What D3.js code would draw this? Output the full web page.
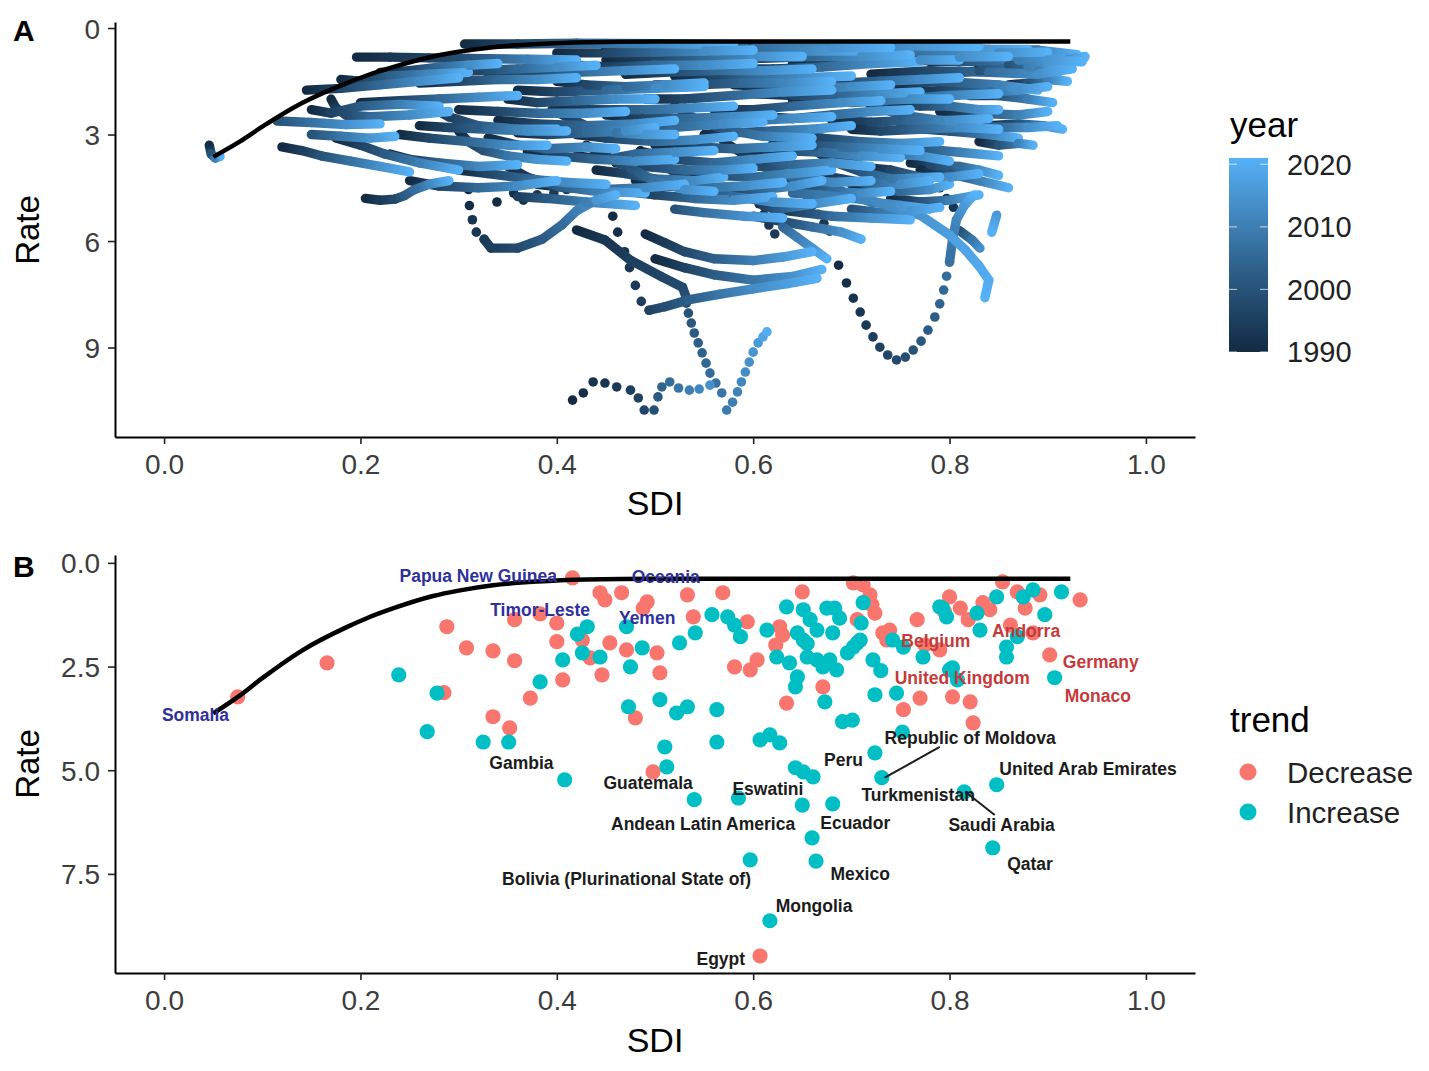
<!DOCTYPE html>
<html><head><meta charset="utf-8">
<script src="https://cdn.jsdelivr.net/npm/d3@7"></script>
<style>
body{margin:0;background:#fff;}
svg{display:block;font-family:"Liberation Sans",Arial,Helvetica,sans-serif;}
</style></head><body>
<svg id="chart" width="1429" height="1071"></svg>
<script>
// ---------------- DATA ----------------
// Frontier curve [sdi, rate]
const frontier = [[0.05,3.63],[0.077,3.2],[0.1,2.78],[0.14,2.12],[0.186,1.55],[0.207,1.33],[0.233,1.1],[0.274,0.8],[0.3,0.67],[0.335,0.54],[0.38,0.45],[0.43,0.4],[0.5,0.38],[0.923,0.38]];

// Panel A trajectories: [year, sdi, rate]
const tracksLow = [
 [[1990,0.046,3.3],[2000,0.048,3.55],[2010,0.052,3.66],[2021,0.057,3.62]],
 [[1990,0.196,0.82],[1993,0.23,0.82],[1996,0.27,0.84],[2000,0.31,0.86],[2010,0.37,0.88],[2021,0.42,0.9]],
 [[1990,0.306,0.45],[1997,0.36,0.45],[2005,0.42,0.43],[2012,0.5,0.44],[2021,0.58,0.47]],
 [[1990,0.145,1.75],[1997,0.18,1.7],[2005,0.22,1.6],[2013,0.26,1.5],[2021,0.3,1.4]],
 [[2000,0.115,2.62],[2007,0.15,2.66],[2014,0.185,2.72],[2021,0.22,2.7]],
 [[1990,0.17,2.0],[1994,0.175,2.25],[1998,0.185,2.45],[2005,0.21,2.5],[2013,0.25,2.45],[2021,0.29,2.35]],
 [[1990,0.12,3.35],[1995,0.14,3.45],[2000,0.16,3.6],[2007,0.19,3.75],[2014,0.22,3.9],[2021,0.25,4.05]],
 [[1990,0.175,3.1],[1996,0.2,3.3],[2002,0.225,3.55],[2010,0.26,3.8],[2021,0.3,4.0]],
 [[1990,0.2,2.1],[1997,0.24,2.05],[2005,0.28,2.0],[2013,0.32,1.95],[2021,0.36,1.9]],
 [[1990,0.26,1.55],[1997,0.3,1.5],[2005,0.34,1.45],[2013,0.38,1.45],[2021,0.42,1.4]],
 [[1990,0.285,1.25],[1997,0.32,1.2],[2005,0.36,1.15],[2013,0.4,1.1],[2021,0.44,1.05]],
 [[1990,0.26,2.75],[1997,0.29,2.8],[2005,0.33,2.85],[2013,0.37,2.9],[2021,0.41,2.9]],
 [[1990,0.205,4.8],[1994,0.22,4.85],[1998,0.235,4.82],[2002,0.245,4.72],[2006,0.255,4.55],[2012,0.27,4.4],[2021,0.29,4.3]],
 [[1990,0.3,2.9],[1995,0.31,3.2],[2000,0.325,3.45],[2008,0.35,3.6],[2015,0.38,3.7],[2021,0.41,3.75]],
 [[1990,0.3,4.0],[1997,0.33,4.1],[2005,0.37,4.25],[2013,0.41,4.35],[2021,0.45,4.4]],
 [[1990,0.24,3.0],[1997,0.27,3.1],[2005,0.31,3.2],[2013,0.35,3.3],[2021,0.39,3.3]],
 [[1990,0.3,2.3],[1997,0.34,2.35],[2005,0.38,2.4],[2013,0.43,2.4],[2021,0.47,2.35]],
 [[1990,0.22,1.25],[1997,0.25,1.2],[2005,0.28,1.1],[2013,0.31,1.05],[2021,0.34,1.0]],
 [[1990,0.33,1.3],[1997,0.37,1.3],[2005,0.42,1.25],[2013,0.47,1.2],[2021,0.52,1.15]],
 [[1990,0.34,2.6],[1997,0.38,2.7],[2005,0.43,2.75],[2013,0.48,2.7],[2021,0.52,2.6]],
 [[2000,0.15,3.0],[2008,0.18,3.05],[2015,0.21,3.1],[2021,0.235,3.05]],
 [[1994,0.326,5.95],[1995,0.333,6.2],[1998,0.36,6.2],[2002,0.385,5.95],[2006,0.405,5.55],[2010,0.42,5.15],[2015,0.44,4.85],[2021,0.46,4.7]]
];
const tracksMid = [
 [[1990,0.36,1.75],[1997,0.4,1.8],[2005,0.45,1.75],[2013,0.5,1.7],[2021,0.55,1.65]],
 [[1990,0.4,2.2],[1997,0.44,2.3],[2005,0.49,2.3],[2013,0.54,2.25],[2021,0.58,2.2]],
 [[1990,0.42,3.0],[1997,0.45,3.1],[2005,0.5,3.2],[2013,0.54,3.15],[2021,0.58,3.05]],
 [[1990,0.37,3.5],[1997,0.4,3.6],[2005,0.44,3.7],[2013,0.48,3.75],[2021,0.52,3.7]],
 [[1990,0.44,4.0],[1997,0.47,4.1],[2005,0.5,4.25],[2013,0.54,4.3],[2021,0.57,4.2]],
 [[1990,0.4,1.5],[1997,0.43,1.6],[2005,0.47,1.65],[2013,0.51,1.6],[2021,0.55,1.55]],
 [[1990,0.395,2.3],[1995,0.41,2.5],[2000,0.43,2.75],[2008,0.46,2.95],[2015,0.49,3.0],[2021,0.52,3.0]],
 [[1990,0.45,0.6],[1998,0.52,0.6],[2006,0.6,0.58],[2014,0.68,0.55],[2021,0.74,0.55]],
 [[1990,0.455,0.66],[1995,0.5,0.64],[2000,0.55,0.64],[2005,0.6,0.66],[2021,0.72,0.64]],
 [[1990,0.58,1.15],[1997,0.62,1.15],[2005,0.67,1.1],[2013,0.72,1.0],[2021,0.77,0.95]],
 [[1990,0.49,2.0],[1997,0.53,2.0],[2005,0.58,1.9],[2013,0.63,1.8],[2021,0.68,1.75]],
 [[1990,0.61,2.5],[1997,0.64,2.55],[2005,0.68,2.45],[2013,0.72,2.35],[2021,0.76,2.3]],
 [[1990,0.49,3.5],[1997,0.52,3.7],[2005,0.56,3.8],[2013,0.6,3.7],[2021,0.64,3.6]],
 [[1990,0.53,4.0],[1997,0.56,4.15],[2005,0.6,4.2],[2013,0.64,4.1],[2021,0.68,4.0]],
 [[1990,0.6,4.7],[1996,0.61,5.0],[2002,0.625,5.1],[2010,0.65,5.0],[2021,0.7,4.8]],
 [[1990,0.64,3.0],[1997,0.67,3.1],[2005,0.71,3.2],[2013,0.75,3.25],[2021,0.79,3.2]],
 [[1990,0.55,3.0],[1997,0.58,2.95],[2005,0.62,2.9],[2013,0.66,2.85],[2021,0.7,2.75]],
 [[1990,0.52,1.35],[1997,0.56,1.35],[2005,0.6,1.4],[2013,0.65,1.4],[2021,0.7,1.35]],
 [[1990,0.6,5.3],[1998,0.63,5.45],[2006,0.66,5.6],[2014,0.69,5.75],[2021,0.71,5.95]],
 [[1990,0.49,5.8],[1994,0.51,6.05],[1998,0.53,6.3],[2003,0.56,6.5],[2010,0.6,6.55],[2016,0.63,6.45],[2021,0.66,6.3]],
 [[1990,0.47,4.6],[1997,0.5,4.7],[2005,0.54,4.8],[2013,0.58,4.85],[2021,0.62,4.75]],
 [[1990,0.45,0.9],[1997,0.5,0.9],[2005,0.55,0.85],[2013,0.6,0.8],[2021,0.65,0.8]],
 [[1990,0.56,0.85],[1997,0.61,0.85],[2005,0.66,0.8],[2013,0.71,0.8],[2021,0.76,0.75]],
 [[1990,0.5,1.6],[1997,0.54,1.6],[2005,0.59,1.55],[2013,0.64,1.55],[2021,0.68,1.5]],
 [[1990,0.6,1.85],[1997,0.64,1.9],[2005,0.69,1.9],[2013,0.73,1.85],[2021,0.77,1.8]],
 [[1990,0.45,2.45],[1997,0.49,2.5],[2005,0.53,2.55],[2013,0.58,2.5],[2021,0.62,2.45]],
 [[1990,0.56,2.3],[1997,0.6,2.3],[2005,0.64,2.2],[2013,0.69,2.1],[2021,0.73,2.05]],
 [[1990,0.5,3.3],[1997,0.54,3.35],[2005,0.58,3.4],[2013,0.62,3.35],[2021,0.66,3.3]],
 [[1990,0.6,3.5],[1997,0.63,3.45],[2005,0.67,3.5],[2013,0.71,3.6],[2021,0.75,3.65]],
 [[1990,0.38,4.4],[1997,0.41,4.5],[2005,0.45,4.55],[2013,0.49,4.5],[2021,0.53,4.4]],
 [[1990,0.4,0.7],[1997,0.45,0.7],[2005,0.5,0.68],[2013,0.55,0.65],[2021,0.6,0.62]],
 [[1990,0.46,3.8],[1997,0.49,3.9],[2005,0.53,4.0],[2013,0.57,4.0],[2021,0.6,3.95]],
 [[1990,0.56,4.5],[1997,0.58,4.6],[2005,0.61,4.55],[2013,0.64,4.45],[2021,0.67,4.3]],
 [[1990,0.5,6.5],[1996,0.53,6.75],[2002,0.56,6.95],[2008,0.6,7.1],[2014,0.64,7.0],[2021,0.67,6.8]],
 [[2005,0.63,5.6],[2010,0.645,5.9],[2015,0.66,6.2],[2021,0.675,6.5]],
 [[1990,0.42,5.69],[1993,0.449,5.97],[1995,0.475,6.54],[1997,0.507,7.01],[1998,0.528,7.3],[1999,0.532,7.6]],
 [[1996,0.494,7.95],[1999,0.51,7.85],[2003,0.535,7.65],[2008,0.565,7.5],[2013,0.6,7.35],[2017,0.635,7.2],[2021,0.665,7.05]]
];
const tracksHigh = [
 [[1990,0.62,0.62],[2000,0.7,0.6],[2010,0.79,0.62],[2021,0.88,0.6]],
 [[1990,0.78,0.95],[2000,0.83,0.85],[2008,0.87,0.8],[2015,0.9,0.9],[2021,0.935,0.95]],
 [[1990,0.72,1.3],[1998,0.78,1.2],[2006,0.84,1.25],[2014,0.89,1.3],[2021,0.925,1.15]],
 [[1990,0.8,0.55],[2000,0.84,0.6],[2010,0.89,0.62],[2021,0.93,0.75]],
 [[1990,0.76,0.9],[2000,0.81,0.95],[2010,0.87,0.9],[2021,0.937,0.85]],
 [[1990,0.78,1.35],[2000,0.83,1.2],[2010,0.88,1.1],[2021,0.92,1.0]],
 [[1990,0.83,1.1],[2000,0.86,1.05],[2010,0.89,1.2],[2021,0.91,1.35]],
 [[1990,0.74,1.6],[2000,0.79,1.5],[2010,0.85,1.6],[2021,0.89,1.75]],
 [[1990,0.82,1.9],[2000,0.85,1.9],[2010,0.88,2.0],[2021,0.905,2.1]],
 [[1990,0.79,2.35],[2000,0.83,2.4],[2010,0.87,2.45],[2021,0.9,2.35]],
 [[1990,0.84,2.75],[2000,0.87,2.7],[2010,0.895,2.75],[2021,0.915,2.85]],
 [[1990,0.75,2.8],[2000,0.8,2.9],[2010,0.84,3.0],[2021,0.87,3.1]],
 [[1990,0.72,3.3],[2000,0.77,3.4],[2010,0.81,3.5],[2021,0.85,3.6]],
 [[1990,0.77,4.0],[2000,0.8,4.1],[2010,0.83,4.3],[2021,0.86,4.5]],
 [[1990,0.7,2.1],[2000,0.75,2.0],[2010,0.8,1.9],[2021,0.85,1.85]],
 [[1990,0.85,1.15],[1998,0.87,1.1],[2006,0.9,0.95],[2014,0.92,0.88],[2021,0.938,0.8]],
 [[1990,0.81,2.65],[1998,0.83,2.75],[2006,0.855,2.8],[2014,0.88,2.8],[2021,0.91,2.75]],
 [[1990,0.74,2.1],[1998,0.77,2.2],[2006,0.8,2.2],[2014,0.83,2.3],[2021,0.85,2.3]],
 [[1990,0.64,1.0],[1997,0.68,1.0],[2005,0.72,0.95],[2013,0.77,0.9],[2021,0.81,0.9]],
 [[1990,0.68,2.6],[1997,0.72,2.65],[2005,0.76,2.6],[2013,0.8,2.6],[2021,0.84,2.55]],
 [[1990,0.7,4.4],[1997,0.72,4.55],[2005,0.75,4.6],[2013,0.78,4.55],[2021,0.8,4.4]],
 [[1990,0.72,0.75],[1997,0.76,0.72],[2005,0.8,0.72],[2013,0.85,0.7],[2021,0.9,0.68]],
 [[1990,0.66,4.1],[1997,0.69,4.25],[2005,0.72,4.4],[2013,0.75,4.4],[2021,0.78,4.3]],
 [[1990,0.68,3.7],[1997,0.71,3.6],[2005,0.74,3.55],[2013,0.77,3.6],[2021,0.8,3.75]],
 [[1990,0.66,1.6],[1997,0.69,1.55],[2005,0.73,1.5],[2013,0.77,1.45],[2021,0.81,1.4]],
 [[1990,0.655,4.0],[1995,0.67,4.3],[2000,0.69,4.6],[2008,0.72,4.9],[2015,0.75,5.0],[2021,0.78,5.1]],
 [[1990,0.74,4.8],[2000,0.77,4.9],[2010,0.8,4.85],[2021,0.83,4.7]],
 [[2005,0.64,4.65],[2009,0.668,4.7],[2012,0.719,4.85],[2015,0.77,5.27],[2017,0.8,5.83],[2018,0.816,6.25],[2019,0.83,6.7],[2020,0.84,7.1],[2021,0.836,7.6]],
 [[2000,0.81,5.7],[2008,0.823,5.97],[2014,0.831,6.2]],
 [[2016,0.848,5.27],[2021,0.843,5.75]],
 [[2007,0.8,6.59],[2009,0.803,5.97],[2012,0.807,5.4],[2016,0.815,5.0],[2021,0.825,4.7]],
 [[1990,0.76,3.8],[1997,0.78,3.85],[2005,0.81,3.9],[2013,0.83,4.0],[2021,0.85,4.15]]
];
const tracksFill = [
 [[1990,0.15,2.3],[1996,0.17,2.4],[2002,0.2,2.2],[2010,0.24,2.15],[2021,0.28,2.2]],
 [[1990,0.18,1.45],[1996,0.2,1.5],[2003,0.23,1.35],[2012,0.27,1.3],[2021,0.31,1.25]],
 [[1990,0.23,3.55],[1996,0.25,3.7],[2003,0.28,3.8],[2012,0.32,3.9],[2021,0.36,3.85]],
 [[1990,0.25,4.3],[1997,0.28,4.45],[2005,0.32,4.5],[2013,0.36,4.45],[2021,0.4,4.3]],
 [[1990,0.33,3.1],[1997,0.36,3.3],[2005,0.39,3.4],[2013,0.43,3.35],[2021,0.46,3.4]],
 [[1990,0.35,2.0],[1997,0.38,2.1],[2005,0.42,2.05],[2013,0.46,2.0],[2021,0.5,2.0]],
 [[1990,0.42,1.05],[1997,0.46,1.1],[2005,0.5,1.05],[2013,0.55,1.05],[2021,0.6,1.0]],
 [[1990,0.47,1.3],[1997,0.51,1.25],[2005,0.56,1.2],[2013,0.61,1.2],[2021,0.66,1.15]],
 [[1990,0.44,2.75],[1997,0.48,2.8],[2005,0.52,2.8],[2013,0.57,2.7],[2021,0.61,2.65]],
 [[1990,0.52,2.6],[1997,0.56,2.65],[2005,0.6,2.6],[2013,0.64,2.55],[2021,0.68,2.5]],
 [[1990,0.57,3.8],[1997,0.6,3.9],[2005,0.64,3.85],[2013,0.68,3.8],[2021,0.72,3.9]],
 [[1990,0.62,3.25],[1997,0.65,3.3],[2005,0.69,3.35],[2013,0.73,3.4],[2021,0.77,3.45]],
 [[1990,0.64,2.05],[1997,0.68,2.1],[2005,0.72,2.05],[2013,0.76,2.0],[2021,0.8,2.0]],
 [[1990,0.7,2.85],[1997,0.73,2.9],[2005,0.77,2.85],[2013,0.81,2.8],[2021,0.85,2.85]],
 [[1990,0.68,0.8],[1997,0.72,0.85],[2005,0.76,0.85],[2013,0.81,0.82],[2021,0.86,0.8]],
 [[1990,0.76,1.8],[1998,0.8,1.75],[2006,0.84,1.8],[2014,0.87,1.75],[2021,0.9,1.65]],
 [[1990,0.72,3.95],[1997,0.74,4.0],[2005,0.77,4.2],[2013,0.8,4.2],[2021,0.83,4.1]],
 [[1990,0.63,4.35],[1997,0.65,4.5],[2005,0.68,4.6],[2013,0.71,4.65],[2021,0.74,4.6]],
 [[1990,0.42,3.6],[1997,0.45,3.7],[2005,0.48,3.55],[2013,0.52,3.5],[2021,0.56,3.45]],
 [[1990,0.53,0.5],[1998,0.6,0.5],[2006,0.68,0.48],[2014,0.76,0.5],[2021,0.83,0.52]],
 [[1990,0.86,1.6],[2000,0.88,1.55],[2010,0.9,1.45],[2021,0.92,1.5]],
 [[1990,0.83,3.2],[2000,0.85,3.3],[2010,0.87,3.25],[2021,0.885,3.3]],
 [[1990,0.58,1.6],[1997,0.62,1.65],[2005,0.66,1.7],[2013,0.7,1.65],[2021,0.74,1.6]],
 [[1990,0.36,2.95],[1997,0.39,3.0],[2005,0.43,2.95],[2013,0.47,2.9],[2021,0.5,2.8]],
 [[1990,0.48,4.3],[1997,0.51,4.45],[2005,0.55,4.5],[2013,0.59,4.45],[2021,0.63,4.35]]
];
const tracksDiagonal = [
 [[1990,0.485,3.45],[1993,0.505,3.8],[1996,0.525,4.15],[2000,0.55,4.5],[2006,0.58,4.75],[2014,0.62,4.9],[2021,0.66,4.95]],
 [[1990,0.57,3.2],[1994,0.59,3.55],[1998,0.61,3.9],[2004,0.64,4.2],[2012,0.68,4.35],[2021,0.72,4.3]],
 [[1990,0.43,3.3],[1995,0.45,3.6],[2000,0.475,3.95],[2007,0.5,4.3],[2014,0.53,4.55],[2021,0.56,4.6]],
 [[1990,0.66,3.4],[1995,0.68,3.75],[2001,0.71,4.05],[2008,0.74,4.25],[2021,0.79,4.2]],
 [[1995,0.36,4.75],[2002,0.39,4.8],[2010,0.43,4.9],[2021,0.48,5.0]],
 [[2000,0.52,5.1],[2007,0.55,5.2],[2014,0.59,5.3],[2021,0.63,5.35]],
 [[1990,0.62,5.1],[1998,0.65,5.2],[2006,0.68,5.3],[2014,0.72,5.35],[2021,0.76,5.4]],
 [[2000,0.7,5.1],[2008,0.73,5.2],[2015,0.76,5.15],[2021,0.79,5.05]],
 [[1990,0.35,3.9],[1995,0.37,4.2],[2002,0.4,4.45],[2010,0.44,4.6],[2021,0.49,4.65]],
 [[1990,0.52,2.2],[1995,0.54,2.55],[2001,0.57,2.85],[2009,0.61,3.05],[2021,0.66,3.1]],
 [[1990,0.7,1.8],[1995,0.72,2.15],[2002,0.75,2.45],[2011,0.79,2.6],[2021,0.83,2.65]],
 [[1990,0.27,2.2],[1995,0.29,2.5],[2002,0.32,2.75],[2011,0.36,2.85],[2021,0.4,2.85]]
];
// Trajectories whose yearly points are visibly separated
const dotTracks = [
 [[1990,0.416,10.48],[1991,0.427,10.28],[1992,0.437,9.97],[1993,0.449,10.0],[1994,0.461,10.11],[1995,0.475,10.2],[1996,0.483,10.42],[1997,0.489,10.76],[1999,0.499,10.76],[2002,0.503,10.39],[2004,0.507,10.11],[2006,0.515,9.97],[2008,0.524,10.14],[2010,0.535,10.2],[2012,0.545,10.17],[2014,0.556,10.06]],
 [[1999,0.532,7.75],[2000,0.534,8.03],[2001,0.537,8.31],[2002,0.54,8.59],[2003,0.544,8.87],[2004,0.548,9.15],[2005,0.552,9.44],[2006,0.556,9.72],[2007,0.562,10.0],[2008,0.568,10.28],[2009,0.573,10.76],[2010,0.579,10.54],[2011,0.584,10.25],[2012,0.588,9.97],[2013,0.592,9.69],[2014,0.596,9.41],[2015,0.6,9.13],[2016,0.605,8.87],[2018,0.61,8.7],[2020,0.614,8.56]],
 [[1990,0.457,5.3],[1991,0.462,5.75],[1992,0.469,6.3],[1993,0.474,6.75],[1994,0.48,7.25],[1995,0.486,7.7],[1996,0.494,7.95]],
 [[1990,0.31,4.55],[1991,0.311,5.0],[1992,0.314,5.4],[1993,0.318,5.75],[1994,0.326,5.95]],
 [[1990,0.687,6.68],[1991,0.695,7.18],[1992,0.702,7.61],[1993,0.709,8.0],[1994,0.715,8.37],[1995,0.722,8.7],[1996,0.729,8.99],[1997,0.737,9.21],[1998,0.746,9.35],[1999,0.755,9.27],[2000,0.763,9.07],[2001,0.771,8.82],[2002,0.778,8.51],[2003,0.785,8.14],[2004,0.79,7.77],[2005,0.794,7.38],[2006,0.797,6.99],[2007,0.8,6.59]],
 [[1990,0.783,4.2],[1991,0.79,4.5],[1992,0.797,4.8],[1993,0.804,5.05]],
 [[1990,0.655,4.75],[1991,0.66,5.0],[1992,0.666,5.25],[1993,0.672,5.5],[1994,0.678,5.72]],
 [[1990,0.339,4.9],[1991,0.356,4.65],[1992,0.366,4.85],[1993,0.38,4.7],[1994,0.397,4.65],[1995,0.41,4.55]],
 [[1990,0.602,4.65],[1991,0.606,4.95],[1992,0.611,5.25],[1993,0.616,5.55],[1994,0.622,5.8]]
];
const yearTicks = [1990, 2000, 2010, 2020];

// Panel B points [sdi, rate]
const decreasePts = [
 [0.075,3.23],[0.166,2.41],[0.288,1.54],[0.308,2.05],[0.335,2.12],[0.357,2.36],[0.335,3.71],[0.352,3.98],[0.373,3.26],[0.285,3.13],
 [0.357,1.37],[0.383,1.23],[0.40,1.45],[0.40,1.9],[0.406,2.82],[0.416,0.36],[0.426,1.86],[0.444,0.72],[0.449,0.89],[0.466,0.72],
 [0.492,0.94],[0.488,1.09],[0.533,0.77],[0.569,0.72],[0.539,1.3],[0.594,1.42],[0.454,1.93],[0.471,2.1],[0.502,2.17],[0.505,2.65],
 [0.446,2.7],[0.434,2.29],[0.48,3.74],[0.498,5.04],[0.581,2.51],[0.597,2.58],[0.604,2.34],[0.627,1.54],[0.63,1.74],[0.623,1.98],
 [0.65,0.7],[0.634,3.38],[0.671,2.99],[0.702,0.48],[0.712,0.53],[0.719,0.77],[0.721,1.01],[0.724,1.21],[0.706,1.37],[0.732,1.69],
 [0.736,1.86],[0.739,1.62],[0.767,1.37],[0.80,0.82],[0.811,1.09],[0.834,0.96],[0.841,1.13],[0.854,0.46],[0.869,0.7],[0.885,1.69],
 [0.902,2.22],[0.933,0.89],[0.753,3.54],[0.77,3.26],[0.803,3.23],[0.821,3.35],[0.824,3.86],[0.607,9.48],[0.775,1.98],[0.79,2.1],
 [0.819,1.37],[0.795,1.18],[0.862,1.5],[0.877,1.09],[0.892,0.77]
];
const increasePts = [
 [0.239,2.7],[0.278,3.14],[0.268,4.07],[0.325,4.32],[0.351,4.32],[0.408,5.23],[0.383,2.87],[0.406,2.34],[0.426,2.17],[0.431,1.54],
 [0.421,1.72],[0.444,2.27],[0.471,1.54],[0.475,2.51],[0.487,2.05],[0.525,1.93],[0.541,1.69],[0.558,1.25],[0.574,1.3],[0.581,1.5],
 [0.587,1.78],[0.473,3.47],[0.505,3.3],[0.522,3.62],[0.533,3.47],[0.563,3.54],[0.51,4.44],[0.512,4.92],[0.563,4.32],[0.607,4.27],
 [0.617,4.15],[0.627,4.34],[0.634,1.06],[0.651,1.13],[0.658,1.37],[0.665,1.62],[0.675,1.09],[0.683,1.09],[0.688,1.33],[0.645,1.69],
 [0.651,1.86],[0.681,1.69],[0.624,2.27],[0.637,2.41],[0.645,2.75],[0.643,2.99],[0.655,2.27],[0.665,2.34],[0.671,2.51],[0.678,2.34],
 [0.685,2.58],[0.696,2.17],[0.702,2.03],[0.709,1.86],[0.722,2.34],[0.724,3.18],[0.746,3.14],[0.691,3.83],[0.701,3.79],[0.673,3.35],
 [0.643,4.94],[0.651,5.04],[0.661,5.16],[0.724,4.58],[0.731,5.18],[0.793,1.09],[0.803,2.53],[0.712,0.96],[0.742,1.86],[0.753,2.03],
 [0.773,2.27],[0.79,1.06],[0.797,1.3],[0.828,1.21],[0.831,1.62],[0.848,0.82],[0.858,2.03],[0.869,1.78],[0.858,2.27],[0.875,0.82],
 [0.885,0.65],[0.897,1.25],[0.914,0.7],[0.907,2.77],[0.80,2.58],[0.808,2.82],[0.752,4.08],[0.848,5.35],[0.815,5.52],[0.844,6.87],
 [0.706,1.93],[0.54,5.71],[0.585,5.67],[0.597,7.16],[0.617,8.63],[0.65,5.84],[0.681,5.81],[0.66,6.63],[0.664,7.19],[0.614,1.62],
 [0.71,1.45],[0.655,1.95],[0.73,2.6]
];
// Country labels [name, sdi, rate, group]
const labelsB = [
 ["Papua New Guinea",0.32,0.31,"blue"],["Oceania",0.511,0.34,"blue"],["Timor-Leste",0.383,1.13,"blue"],["Yemen",0.492,1.33,"blue"],["Somalia",0.032,3.67,"blue"],
 ["Belgium",0.786,1.88,"red"],["Andorra",0.878,1.64,"red"],["Germany",0.954,2.39,"red"],["United Kingdom",0.813,2.77,"red"],["Monaco",0.951,3.21,"red"],
 ["Gambia",0.364,4.82,"black"],["Guatemala",0.493,5.31,"black"],["Eswatini",0.615,5.45,"black"],["Andean Latin America",0.549,6.29,"black"],["Ecuador",0.704,6.27,"black"],
 ["Peru",0.692,4.75,"black"],["Republic of Moldova",0.821,4.22,"black"],["Turkmenistan",0.768,5.59,"black"],["Saudi Arabia",0.853,6.32,"black"],["Qatar",0.882,7.26,"black"],
 ["United Arab Emirates",0.941,4.97,"black"],["Mexico",0.709,7.5,"black"],["Bolivia (Plurinational State of)",0.471,7.62,"black"],["Mongolia",0.662,8.27,"black"],["Egypt",0.567,9.55,"black"]
];
// Label connector segments [sdi1, rate1, sdi2, rate2]
const connectorsB = [[0.79,4.44,0.734,5.18],[0.816,5.52,0.846,6.08]];
const trendNames = ["Decrease","Increase"];

// ---------------- CHART ----------------
const svg = d3.select("#chart");
const defs = svg.append("defs");
const FONT_TICK = 28;
const x = d3.scaleLinear().domain([-0.05,1.05]).range([115,1195]);
const yA = d3.scaleLinear().domain([-0.17,11.52]).range([22,437]);
const yB = d3.scaleLinear().domain([-0.19,9.89]).range([555,973]);
const yearColor = d3.scaleLinear().domain([1990,2021]).range(["#132B43","#56B1F7"]).interpolate(d3.interpolateLab);
const trendColor = d3.scaleOrdinal().domain(trendNames).range(["#F8766D","#00BFC4"]);
const labelColor = {blue:"#30309c", red:"#c43b3b", black:"#1c1c1c"};

function styleAxis(g){
  g.select(".domain").attr("stroke","#000").attr("stroke-width",2);
  g.selectAll(".tick line").attr("stroke","#222").attr("stroke-width",1.6);
  g.selectAll(".tick text").attr("font-size",FONT_TICK).attr("fill","#3d3d3d")
    .attr("font-family","Liberation Sans, Arial, sans-serif");
}
function drawAxes(yS, yTicks, yFmt, bottomY){
  const gx = svg.append("g").attr("transform",`translate(0,${bottomY})`)
    .call(d3.axisBottom(x).tickValues([0,0.2,0.4,0.6,0.8,1.0]).tickFormat(d3.format(".1f")).tickSize(7).tickSizeOuter(0).tickPadding(10));
  styleAxis(gx);
  const gy = svg.append("g").attr("transform","translate(115,0)")
    .call(d3.axisLeft(yS).tickValues(yTicks).tickFormat(yFmt).tickSize(7).tickSizeOuter(0).tickPadding(8));
  styleAxis(gy);
  gy.selectAll(".tick text").attr("dy","0.36em");
}

// ---- Panel A ----
const gA = svg.append("g");
// Collect marks, draw in year order (later years on top, as in the source plot)
const marks = [];
[tracksLow, tracksMid, tracksHigh, tracksFill, tracksDiagonal].forEach(group=>group.forEach(track=>{
  for(let i=0;i<track.length-1;i++) marks.push({type:"seg", a:track[i], b:track[i+1], year:(track[i][0]+track[i+1][0])/2});
}));
dotTracks.forEach(track=>track.forEach(p=>marks.push({type:"dot", p:p, year:p[0]})));
marks.sort((m,n)=>m.year-n.year);
let gid = 0;
marks.forEach(m=>{
  if(m.type==="seg"){
    const a=m.a, b=m.b;
    const x1=x(a[1]), y1=yA(a[2]), x2=x(b[1]), y2=yA(b[2]);
    const id="tg"+(gid++);
    const lg=defs.append("linearGradient").attr("id",id).attr("gradientUnits","userSpaceOnUse")
      .attr("x1",x1).attr("y1",y1).attr("x2",x2+0.01).attr("y2",y2);
    lg.append("stop").attr("offset",0).attr("stop-color",yearColor(a[0]));
    lg.append("stop").attr("offset",1).attr("stop-color",yearColor(b[0]));
    gA.append("line").attr("x1",x1).attr("y1",y1).attr("x2",x2).attr("y2",y2)
      .attr("stroke","url(#"+id+")").attr("stroke-width",9.4).attr("stroke-linecap","round");
  } else {
    gA.append("circle").attr("cx",x(m.p[1])).attr("cy",yA(m.p[2])).attr("r",4.8).attr("fill",yearColor(m.p[0]));
  }
});

const lineGen = (yS)=> d3.line().x(d=>x(d[0])).y(d=>yS(d[1])).curve(d3.curveMonotoneX);
gA.append("path").attr("d",lineGen(yA)(frontier)).attr("fill","none").attr("stroke","#000").attr("stroke-width",4.5);

drawAxes(yA,[0,3,6,9],d3.format("d"),437);

svg.append("text").attr("x",13).attr("y",41).attr("font-size",30).attr("font-weight","bold").text("A");
svg.append("text").attr("x",655).attr("y",515).attr("text-anchor","middle").attr("font-size",34).text("SDI");
svg.append("text").attr("transform","translate(39,230) rotate(-90)").attr("text-anchor","middle").attr("font-size",33).text("Rate");

// colour bar legend
svg.append("text").attr("x",1230).attr("y",137).attr("font-size",35).text("year");
const cbY = d3.scaleLinear().domain([1990,2021]).range([352,158]);
const cg = defs.append("linearGradient").attr("id","cbar").attr("x1",0).attr("y1",1).attr("x2",0).attr("y2",0);
d3.range(0,1.0001,0.1).forEach(t=>{
  cg.append("stop").attr("offset",t).attr("stop-color",yearColor(1990+t*31));
});
svg.append("rect").attr("x",1229).attr("y",158).attr("width",39).attr("height",194).attr("fill","url(#cbar)");
yearTicks.forEach(yr=>{
  const yy = cbY(yr);
  svg.append("line").attr("x1",1229).attr("x2",1237).attr("y1",yy).attr("y2",yy).attr("stroke","#fff").attr("stroke-opacity",0.6).attr("stroke-width",1.2);
  svg.append("line").attr("x1",1260).attr("x2",1268).attr("y1",yy).attr("y2",yy).attr("stroke","#fff").attr("stroke-opacity",0.6).attr("stroke-width",1.2);
  svg.append("text").attr("x",1287).attr("y",yy).attr("dy","0.36em").attr("font-size",29).attr("fill","#222").text(yr);
});

// ---- Panel B ----
const gB = svg.append("g");
gB.selectAll(null).data(decreasePts).enter().append("circle")
  .attr("cx",d=>x(d[0])).attr("cy",d=>yB(d[1])).attr("r",7.6).attr("fill",trendColor("Decrease"));
gB.selectAll(null).data(increasePts).enter().append("circle")
  .attr("cx",d=>x(d[0])).attr("cy",d=>yB(d[1])).attr("r",7.6).attr("fill",trendColor("Increase"));
gB.append("path").attr("d",lineGen(yB)(frontier)).attr("fill","none").attr("stroke","#000").attr("stroke-width",4.5);
connectorsB.forEach(c=>{
  gB.append("line").attr("x1",x(c[0])).attr("y1",yB(c[1])).attr("x2",x(c[2])).attr("y2",yB(c[3]))
    .attr("stroke","#1c1c1c").attr("stroke-width",2);
});
gB.selectAll(null).data(labelsB).enter().append("text")
  .attr("x",d=>x(d[1])).attr("y",d=>yB(d[2])).attr("dy","0.36em")
  .attr("text-anchor","middle").attr("font-size",17.5).attr("font-weight","bold")
  .attr("fill",d=>labelColor[d[3]]).text(d=>d[0]);

drawAxes(yB,[0,2.5,5,7.5],d3.format(".1f"),973);
svg.append("text").attr("x",13).attr("y",577).attr("font-size",30).attr("font-weight","bold").text("B");
svg.append("text").attr("x",655).attr("y",1052).attr("text-anchor","middle").attr("font-size",34).text("SDI");
svg.append("text").attr("transform","translate(39,764) rotate(-90)").attr("text-anchor","middle").attr("font-size",33).text("Rate");

svg.append("text").attr("x",1230).attr("y",732).attr("font-size",35).text("trend");
trendNames.forEach((t,i)=>{
  const yy = 772 + i*40;
  svg.append("circle").attr("cx",1248).attr("cy",yy).attr("r",8.5).attr("fill",trendColor(t));
  svg.append("text").attr("x",1287).attr("y",yy).attr("dy","0.36em").attr("font-size",29.5).attr("fill","#222").text(t);
});
</script></body></html>
